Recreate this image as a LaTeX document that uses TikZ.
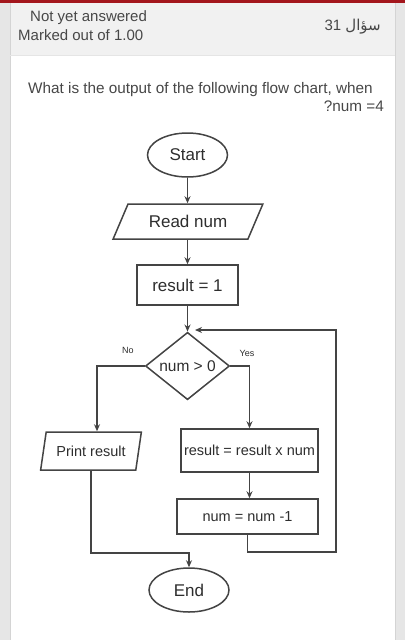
\documentclass[tikz,border=0pt]{standalone}
\usepackage{fontspec}
\setmainfont{Liberation Sans}
\newfontfamily\arabicfont[Script=Arabic]{DejaVu Sans}
\TeXXeTstate=1
\usetikzlibrary{shapes.geometric,arrows.meta}
\definecolor{ink}{HTML}{2E2E2E}
\definecolor{wire}{HTML}{444444}
\definecolor{pagegray}{HTML}{E6E6E6}
\definecolor{headgray}{HTML}{F1F1F1}
\definecolor{rimgray}{HTML}{D4D4D4}
\definecolor{topred}{HTML}{A3161C}
\tikzset{
  box/.style = {draw=wire, line width=1.5pt, text=ink, inner sep=0pt,
                font=\fontsize{14.5}{17}\selectfont},
  big/.style = {font=\fontsize{#1}{19}\selectfont},
  big/.default = 17,
  term/.style = {box, big, ellipse, minimum width=80, minimum height=44},
  proc/.style = {box, rectangle, minimum width=#1, minimum height=40},
  proc/.default = 101,
  io/.style = {box, trapezium, trapezium stretches=true},
  cond/.style = {box, diamond, minimum width=84, minimum height=66},
  arr/.style = {draw=wire, line width=1.5pt, -{Stealth[length=7pt,width=6pt]}},
  head/.style = {inner sep=0pt, text=black!72, font=\fontsize{15}{18}\selectfont},
  tag/.style = {inner sep=0pt, text=ink, font=\fontsize{9}{11}\selectfont}
}

\begin{document}
\begin{tikzpicture}[x=1pt, y=-1pt]
	\useasboundingbox (0,0) rectangle (405,640);

	% Page
	\fill[pagegray] (0,0) rectangle (405,640);
	\fill[white] (10,55) rectangle (395,640);
	\fill[headgray] (10,3) rectangle (395,55);
	\draw[rimgray] (10,3) -- (10,640);
	\draw[rimgray] (395,3) -- (395,640);
	\draw[rimgray!60] (10,55) -- (395,55);
	\fill[topred] (0,0) rectangle (405,3);

	% Header
	\node[head, anchor=base west] (status) at (30,21.5) {Not yet answered};
	\node[head, anchor=base west] (marks) at (18,40.5) {Marked out of 1.00};
	\node[head, anchor=base east] (qnum) at (381,30.5) {31 {\arabicfont\beginR سؤال\endR}};

	% Question
	\node[head, font=\fontsize{15.3}{18}\selectfont, anchor=base west] (question) at (28,93) {What is the output of the following flow chart, when};
	\node[head, font=\fontsize{15.3}{18}\selectfont, anchor=base east] (qline) at (384,111) {?num =4};

	% Flow chart
	\node[term] (start) at (187.5,155) {Start};
	\node[io, big, trapezium left angle=52, trapezium right angle=128,
	      minimum width=150, minimum height=35] (read) at (188,221.5) {Read num};
	\node[proc, big] (init) at (187.5,285) {result = 1};
	\node[cond, big=15.5] (test) at (187.5,366) {num > 0};
	\node[io, trapezium left angle=68, trapezium right angle=112,
	      minimum width=101, minimum height=38] (print) at (91,451) {Print result};
	\node[proc=137, minimum height=43] (mult) at (249.5,450.5) {result = result x num};
	\node[proc=141, minimum height=35] (dec) at (247.5,516.5) {num = num -1};
	\node[term] (stop) at (189,590) {End};

	\coordinate (loopR) at (336,330);
	\coordinate (loopIn) at (195,330);

	% Connectors
	\draw[arr] (start.south) -- (start.south |- read.north);
	\draw[arr] (start.south |- read.south) -- (init.north);
	\draw[arr] (init.south) -- (test.north);
	\draw[arr] (test.west) -| ([xshift=6pt]print.north);
	\draw[arr] (test.east) -| (mult.north);
	\draw[arr] (mult.south) -- (mult.south |- dec.north);
	\draw[arr] (dec.south) -- ++(0,17) -| (loopR) -- (loopIn);
	\draw[arr] (print.south) -- ++(0,82) -| (stop.north);

	% Labels
	\node[tag] (no) at (128,350) {No};
	\node[tag] (yes) at (247,353) {Yes};

\end{tikzpicture}
\end{document}
